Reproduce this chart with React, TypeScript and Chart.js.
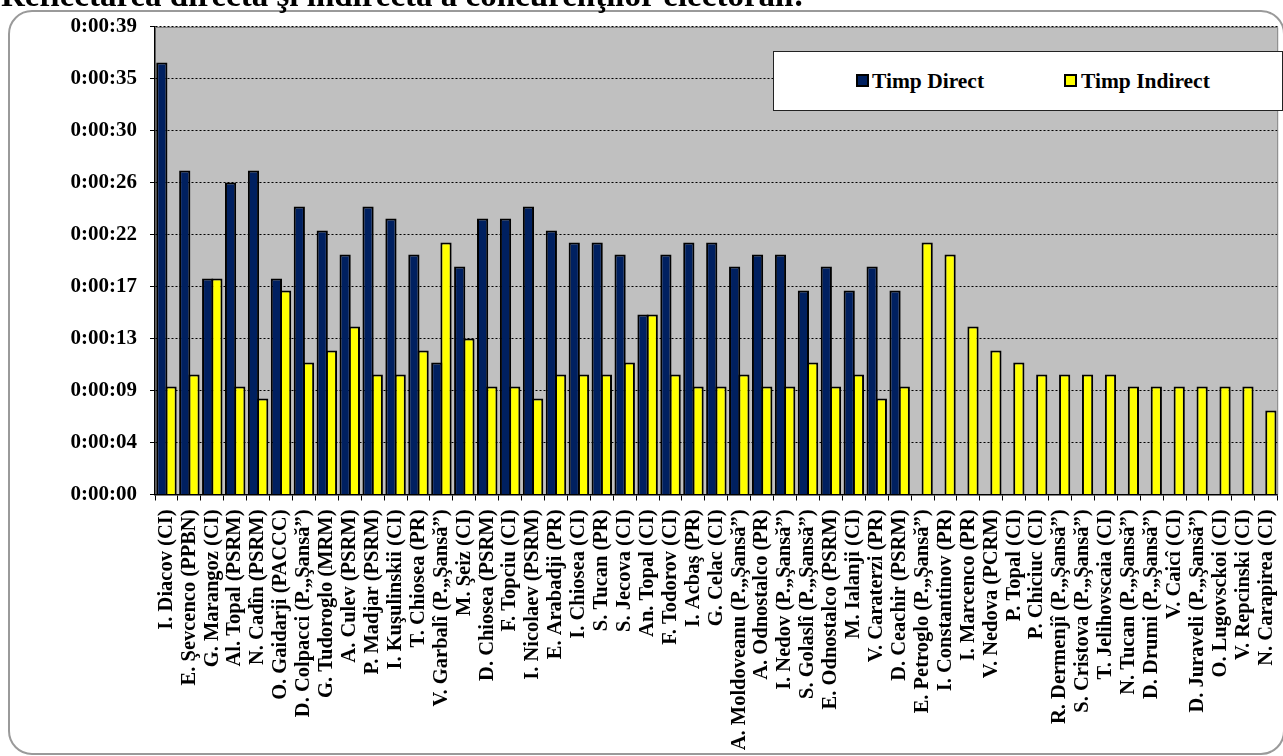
import React, { useEffect, useRef } from 'react';
import { Chart, registerables } from 'chart.js';

Chart.register(...registerables);

const categories = [
  'I. Diacov (CI)',
  'E. Şevcenco (PPBN)',
  'G. Marangoz (CI)',
  'Al. Topal (PSRM)',
  'N. Cadîn (PSRM)',
  'O. Gaidarji (PACCC)',
  'D. Colpacci (P.„Şansă”)',
  'G. Tudoroglo (MRM)',
  'A. Culev (PSRM)',
  'P. Madjar (PSRM)',
  'I. Kuşulinskii (CI)',
  'T. Chiosea (PR)',
  'V. Garbalî (P.„Şansă”)',
  'M. Şeiz (CI)',
  'D. Chiosea (PSRM)',
  'F. Topciu (CI)',
  'I. Nicolaev (PSRM)',
  'E. Arabadji (PR)',
  'I. Chiosea (CI)',
  'S. Tucan (PR)',
  'S. Jecova (CI)',
  'An. Topal (CI)',
  'F. Todorov (CI)',
  'I. Acbaş (PR)',
  'G. Celac (CI)',
  'A. Moldoveanu (P.„Şansă”)',
  'A. Odnostalco (PR)',
  'I. Nedov (P.„Şansă”)',
  'S. Golaslî (P.„Şansă”)',
  'E. Odnostalco (PSRM)',
  'M. Ialanji (CI)',
  'V. Caraterzi (PR)',
  'D. Ceachir (PSRM)',
  'E. Petroglo (P.„Şansă”)',
  'I. Constantinov (PR)',
  'I. Marcenco (PR)',
  'V. Nedova (PCRM)',
  'P. Topal (CI)',
  'P. Chiciuc (CI)',
  'R. Dermenjî (P.„Şansă”)',
  'S. Cristova (P.„Şansă”)',
  'T. Jelihovscaia (CI)',
  'N. Tucan (P.„Şansă”)',
  'D. Drumi (P.„Şansă”)',
  'V. Caicî (CI)',
  'D. Juraveli (P.„Şansă”)',
  'O. Lugovsckoi (CI)',
  'V. Repcinski (CI)',
  'N. Carapirea (CI)',
];

// seconds
const timpDirect: (number | null)[] = [
  36, 27, 18, 26, 27, 18, 24, 22, 20, 24, 23, 20, 11, 19, 23, 23, 24, 22, 21, 21,
  20, 15, 20, 21, 21, 19, 20, 20, 17, 19, 17, 19, 17,
  null, null, null, null, null, null, null, null, null, null, null, null, null, null, null, null,
];

const timpIndirect: number[] = [
  9, 10, 18, 9, 8, 17, 11, 12, 14, 10, 10, 12, 21, 13, 9, 9, 8, 10, 10, 10,
  11, 15, 10, 9, 9, 10, 9, 9, 11, 9, 10, 8, 9,
  21, 20, 14, 12, 11, 10, 10, 10, 10, 9, 9, 9, 9, 9, 9, 7,
];

const yTickLabels = [
  '0:00:00', '0:00:04', '0:00:09', '0:00:13', '0:00:17',
  '0:00:22', '0:00:26', '0:00:30', '0:00:35', '0:00:39',
];
const yMaxSeconds = 39;

const seriesNames = ['Timp Direct', 'Timp Indirect'];
const seriesColors = ['#002060', '#FFFF00'];

const SERIF = '"Liberation Serif", "Times New Roman", Times, serif';

export default function App() {
  const ref = useRef<HTMLCanvasElement | null>(null);

  useEffect(() => {
    const canvas = ref.current;
    if (!canvas) return;

    const plotBg = {
      id: 'plotBg',
      beforeDraw(chart: any) {
        const { ctx, chartArea: a } = chart;
        ctx.save();
        ctx.fillStyle = '#C0C0C0';
        ctx.fillRect(a.left, a.top, a.right - a.left, a.bottom - a.top);
        ctx.restore();
      },
      beforeDatasetsDraw(chart: any) {
        const { ctx, chartArea: a } = chart;
        ctx.save();
        ctx.strokeStyle = '#808080';
        ctx.lineWidth = 1;
        ctx.beginPath();
        ctx.moveTo(a.left, Math.round(a.top) + 0.5);
        ctx.lineTo(a.right, Math.round(a.top) + 0.5);
        ctx.lineTo(a.right, a.bottom);
        ctx.stroke();
        ctx.restore();
      },
    };

    const chart = new Chart(canvas, {
      type: 'bar',
      data: {
        labels: categories,
        datasets: [
          {
            label: seriesNames[0],
            data: timpDirect,
            backgroundColor: seriesColors[0],
            borderColor: '#000000',
            borderWidth: 2,
            categoryPercentage: 0.806,
            barPercentage: 1.215,
          },
          {
            label: seriesNames[1],
            data: timpIndirect,
            backgroundColor: seriesColors[1],
            borderColor: '#000000',
            borderWidth: 2,
            categoryPercentage: 0.806,
            barPercentage: 1.215,
          },
        ],
      },
      options: {
        responsive: false,
        animation: false,
        devicePixelRatio: 1,
        layout: { padding: { left: 0, right: 14, top: 26.5, bottom: 0 } },
        plugins: {
          legend: { display: false },
          tooltip: { enabled: false },
          title: { display: false },
        },
        scales: {
          x: {
            grid: {
              drawOnChartArea: false,
              drawTicks: true,
              tickLength: 6,
              color: '#000000',
              offset: true,
            },
            border: { display: true, color: '#000000', width: 1.5 },
            ticks: {
              autoSkip: false,
              minRotation: 90,
              maxRotation: 90,
              padding: 9,
              color: '#000000',
              font: { family: SERIF, size: 20.5, weight: 'bold' },
            },
            afterFit(scale: any) {
              scale.height = 756 - 494.5;
            },
          },
          y: {
            min: 0,
            max: yMaxSeconds,
            afterBuildTicks(scale: any) {
              scale.ticks = yTickLabels.map((_, i) => ({
                value: (i * yMaxSeconds) / (yTickLabels.length - 1),
              }));
            },
            grid: {
              color: '#000000',
              lineWidth: 1,
              drawTicks: true,
              tickLength: 5,
            },
            border: { display: true, color: '#000000', width: 1.5, dash: [2, 2] },
            ticks: {
              padding: 13,
              color: '#000000',
              font: { family: SERIF, size: 21, weight: 'bold' },
              callback: (_v: any, i: number) => yTickLabels[i],
            },
            afterFit(scale: any) {
              scale.width = 155;
            },
          },
        },
      },
      plugins: [plotBg],
    } as any);

    return () => chart.destroy();
  }, []);

  const legendText: React.CSSProperties = {
    position: 'absolute',
    top: 69.5,
    fontFamily: SERIF,
    fontWeight: 'bold',
    fontSize: 21.5,
    lineHeight: '22px',
    whiteSpace: 'nowrap',
    color: '#000',
  };
  const legendBox = (color: string, left: number): React.CSSProperties => ({
    position: 'absolute',
    left,
    top: 74,
    width: 13,
    height: 13,
    boxSizing: 'border-box',
    border: '2px solid #000',
    background: color,
  });

  return (
    <div
      style={{
        position: 'fixed',
        left: 0,
        top: 0,
        width: 1283,
        height: 756,
        overflow: 'hidden',
        background: '#ffffff',
      }}
    >
      <div
        style={{
          position: 'absolute',
          left: 8,
          top: 10,
          width: 1277,
          height: 745,
          boxSizing: 'border-box',
          border: '2.5px solid #9a9a9a',
          borderRadius: 24,
        }}
      />
      <canvas
        ref={ref}
        width={1300}
        height={756}
        style={{ position: 'absolute', left: 0, top: 0, width: 1300, height: 756 }}
      />
      <div
        style={{
          position: 'absolute',
          left: 1,
          top: -21,
          fontFamily: SERIF,
          fontWeight: 'bold',
          fontSize: 33,
          lineHeight: '33px',
          whiteSpace: 'nowrap',
          color: '#000',
        }}
      >
        Reflectarea directă şi indirectă a concurenţilor electorali:
      </div>
      <div
        style={{
          position: 'absolute',
          left: 773,
          top: 51,
          width: 510,
          height: 60,
          boxSizing: 'border-box',
          border: '1px solid #222',
          background: '#ffffff',
        }}
      />
      <div style={legendBox(seriesColors[0], 856)} />
      <div style={{ ...legendText, left: 872 }}>{seriesNames[0]}</div>
      <div style={legendBox(seriesColors[1], 1064)} />
      <div style={{ ...legendText, left: 1081 }}>{seriesNames[1]}</div>
    </div>
  );
}
